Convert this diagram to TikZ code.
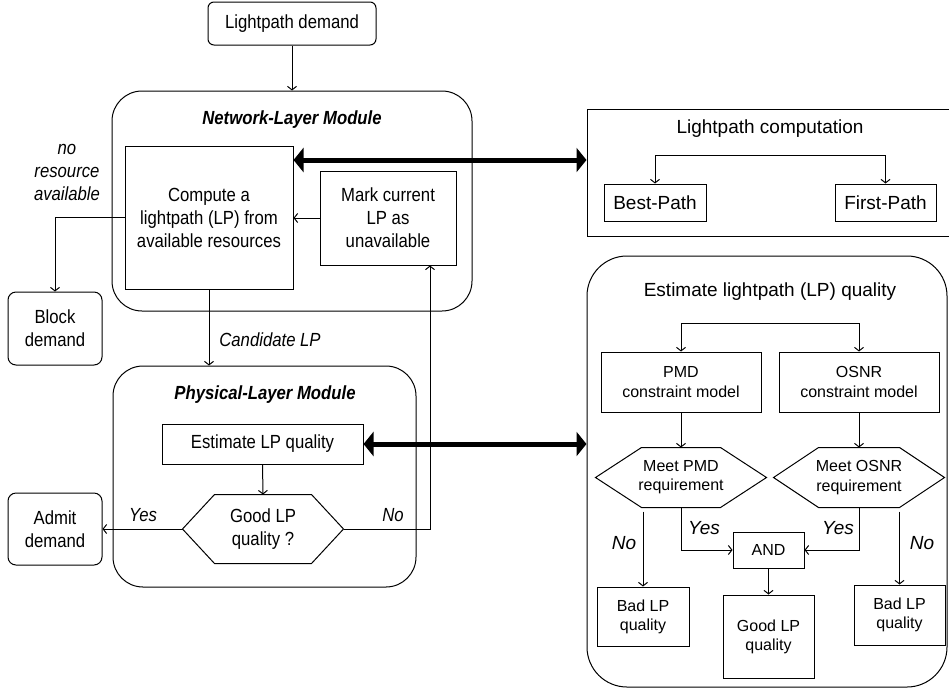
\documentclass[tikz,border=0pt]{standalone}
\usepackage{fontspec}
\setmainfont{Liberation Sans}
\newfontfamily\condf{Liberation Sans}[FakeStretch=0.88]
\usetikzlibrary{arrows.meta,calc}
\newcommand\hexo[2]{\draw (#1.west) -- ([xshift=#2]#1.north west) -- ([xshift=-#2]#1.north east) -- (#1.east) -- ([xshift=-#2]#1.south east) -- ([xshift=#2]#1.south west) -- cycle;}
\begin{document}
\begin{tikzpicture}[x=1pt,y=-1pt, line width=1pt,
 lf/.style={font=\condf\fontsize{19}{23}\selectfont},
 rf/.style={font=\fontsize{19}{23}\selectfont},
 sf/.style={font=\fontsize{16}{19.2}\selectfont},
 bx/.style={draw, inner sep=0pt, align=center},
 hx/.style={inner sep=0pt, align=center},
 arr/.style={-{Straight Barb[length=3.5pt,width=9pt]}},
 bigarr/.style={line width=5pt, {Triangle[length=10pt,width=24pt]}-{Triangle[length=10pt,width=24pt]}},
 lab/.style={inner sep=0pt, align=center}]
\useasboundingbox (0,0) rectangle (949,691);
% modules
\node[bx, rounded corners=30pt, minimum width=360pt, minimum height=220pt] (net) at (292,201) {};
\node[lab, lf, font=\condf\fontsize{19}{23}\selectfont\bfseries\itshape] (netT) at (292,120) {Network-Layer Module};
\node[bx, rounded corners=30pt, minimum width=303pt, minimum height=221pt] (phys) at (264.5,476.5) {};
\node[lab, font=\condf\fontsize{19}{23}\selectfont\bfseries\itshape] (physT) at (265,395) {Physical-Layer Module};
\node[bx, minimum width=364pt, minimum height=127pt] (lpc) at (769,172.5) {};
\node[lab, rf] (lpcT) at (770,129) {Lightpath computation};
\node[bx, rounded corners=40pt, minimum width=360pt, minimum height=431pt] (elq) at (767,471.5) {};
\node[lab, rf] (elqT) at (770,292) {Estimate lightpath (LP) quality};
% left nodes
\node[bx, lf, rounded corners=6pt, minimum width=168pt, minimum height=43pt] (dem) at (292,23.5) {Lightpath demand};
\node[bx, lf, minimum width=168pt, minimum height=143pt] (comp) at (209,217.5) {Compute a\\lightpath (LP) from\\available resources};
\node[bx, lf, minimum width=136pt, minimum height=94pt] (mark) at (388,218) {Mark current\\LP as\\unavailable};
\node[bx, lf, rounded corners=8pt, minimum width=94pt, minimum height=73pt] (block) at (55,328.5) {Block\\demand};
\node[bx, lf, minimum width=201pt, minimum height=40pt] (est) at (262.5,444) {Estimate LP quality};
\node[hx, lf, minimum width=160pt, minimum height=68pt] (q) at (263,529) {Good LP\\quality ?};
\hexo{q}{32pt}
\node[bx, lf, rounded corners=8pt, minimum width=94pt, minimum height=72pt] (admit) at (55,529) {Admit\\demand};
% right nodes
\node[bx, rf, minimum width=102pt, minimum height=37pt] (bp) at (655,202.5) {Best-Path};
\node[bx, rf, minimum width=101pt, minimum height=37pt] (fp) at (885.5,202.5) {First-Path};
\node[bx, sf, minimum width=160pt, minimum height=60pt] (pmd) at (681,382) {PMD\\constraint model};
\node[bx, sf, minimum width=160pt, minimum height=60pt] (osnr) at (859,382) {OSNR\\constraint model};
\node[hx, sf, minimum width=170pt, minimum height=59pt] (hp) at (681,477.5) {Meet PMD\\requirement};
\hexo{hp}{46pt}
\node[hx, sf, minimum width=170pt, minimum height=59pt] (ho) at (859,477.5) {Meet OSNR\\requirement};
\hexo{ho}{45pt}
\node[bx, sf, minimum width=71pt, minimum height=36pt] (and) at (768.5,550) {AND};
\node[bx, sf, minimum width=92pt, minimum height=59pt] (bad1) at (643,616.5) {Bad LP\\quality};
\node[bx, sf, minimum width=91pt, minimum height=83pt] (good) at (768.5,636.5) {Good LP\\quality};
\node[bx, sf, minimum width=91pt, minimum height=60pt] (bad2) at (899.5,615) {Bad LP\\quality};
% coordinates
\coordinate (f1) at (770,155);
\coordinate (f2) at (770,323);
% labels
\node[lab, lf, font=\condf\fontsize{19}{23}\selectfont\itshape] (nores) at (67,172) {no\\resource\\available};
\node[lab, font=\condf\fontsize{19}{23}\selectfont\itshape] (cand) at (270,340) {Candidate LP};
\node[lab, font=\condf\fontsize{19}{23}\selectfont\itshape] (yesL) at (143,515) {Yes};
\node[lab, font=\condf\fontsize{19}{23}\selectfont\itshape] (noL) at (393,515) {No};
\node[lab, font=\fontsize{19}{23}\selectfont\itshape] (yes1) at (704,528) {Yes};
\node[lab, font=\fontsize{19}{23}\selectfont\itshape] (yes2) at (838,528) {Yes};
\node[lab, font=\fontsize{19}{23}\selectfont\itshape] (no1) at (624,543) {No};
\node[lab, font=\fontsize{19}{23}\selectfont\itshape] (no2) at (922,543) {No};
% connectors
\draw[arr] (dem.south) -- (dem.south |- net.north);
\draw[arr] (mark.west) -- (mark.west -| comp.east);
\draw[arr] (comp.west) -| (block.north);
\draw[arr] (comp.south) -- (comp.south |- phys.north);
\draw[arr] (est.south) -- (q.north);
\draw[arr] (q.west) -- (admit.east);
\draw[arr] (q.east) -| ([xshift=42pt]mark.south);
\draw[bigarr] ([yshift=57.5pt]comp.east) -- ([yshift=57.5pt]comp.east -| lpc.west);
\draw[bigarr] (est.east) -- (est.east -| elq.west);
\draw[arr] (f1) -| (bp.north);
\draw[arr] (f1) -| (fp.north);
\draw[arr] (f2) -| (pmd.north);
\draw[arr] (f2) -| (osnr.north);
\draw[arr] (pmd.south) -- (hp.north);
\draw[arr] (osnr.south) -- (ho.north);
\draw[arr] ([yshift=-4pt]bad1.north |- hp.south) -- (bad1.north);
\draw[arr] ([yshift=-4pt]bad2.north |- ho.south) -- (bad2.north);
\draw[arr] (hp.south) |- (and.west);
\draw[arr] (ho.south) |- (and.east);
\draw[arr] (and.south) -- (good.north);
\end{tikzpicture}
\end{document}
